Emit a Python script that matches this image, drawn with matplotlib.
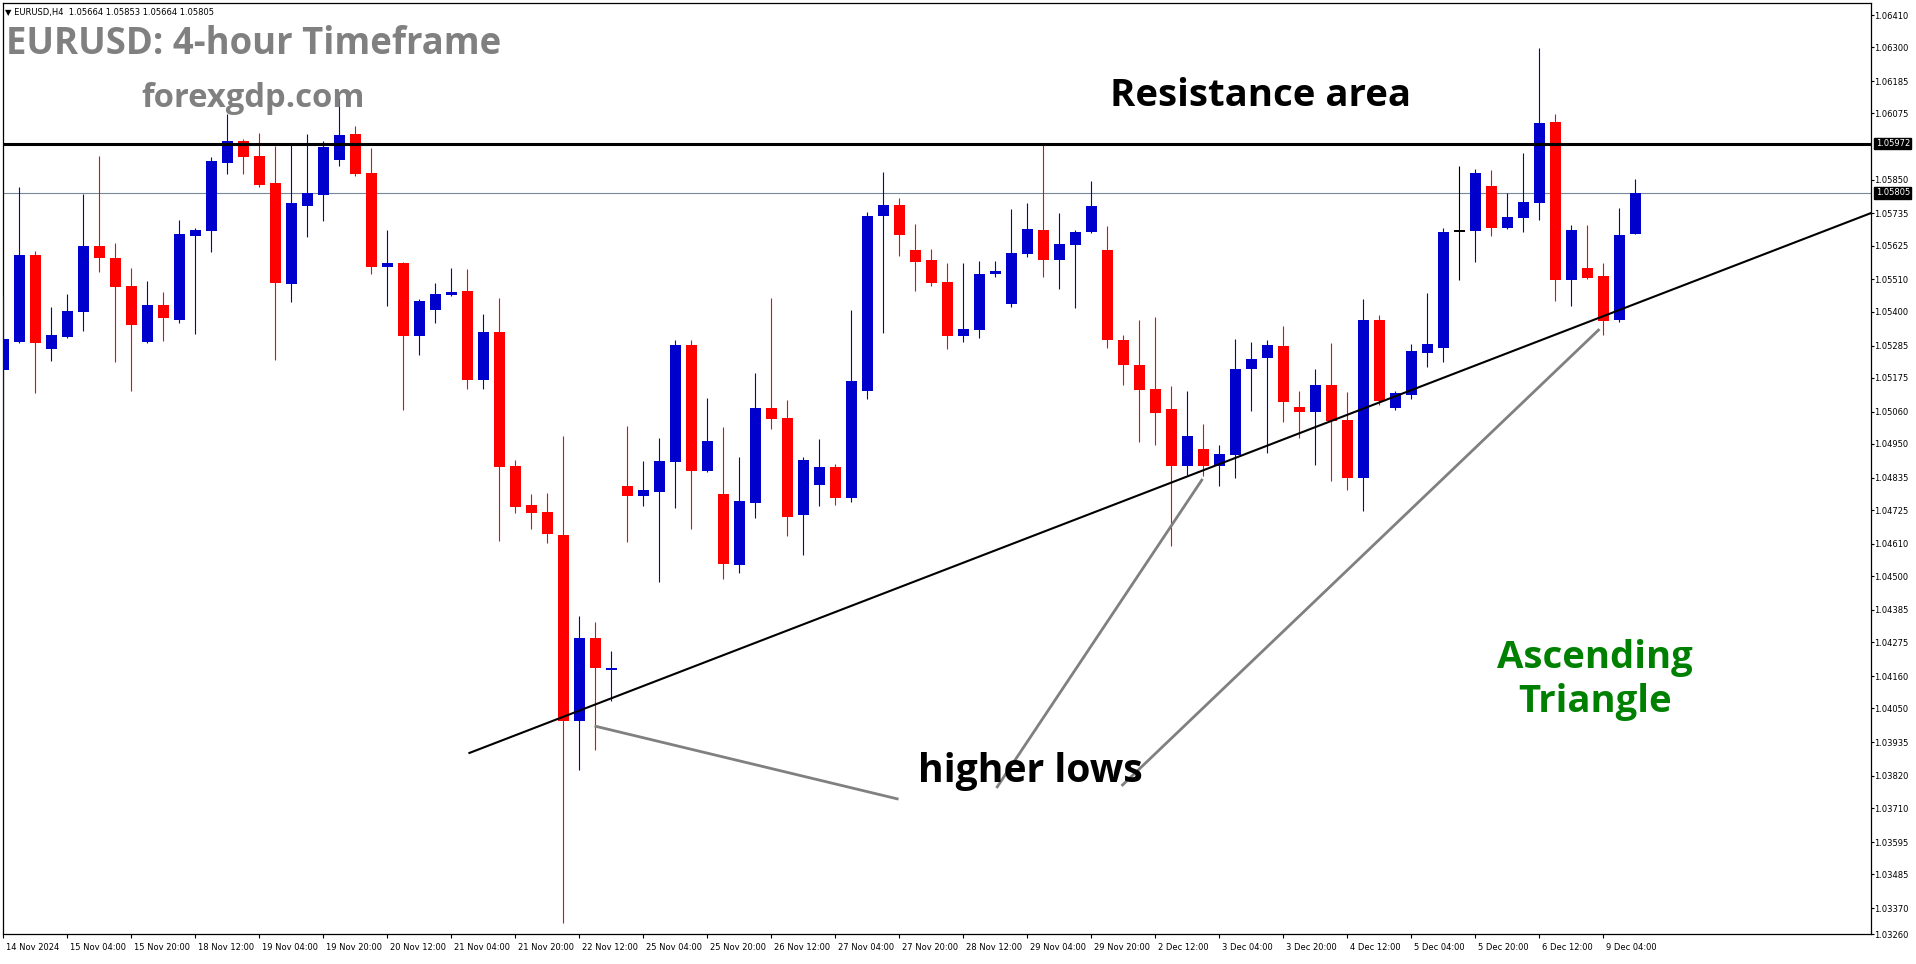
import matplotlib
matplotlib.use("Agg")
import matplotlib.pyplot as plt
import matplotlib.transforms as mtransforms
import numpy as np

# ---------------- data (EURUSD H4) ----------------
opens = [1.05202, 1.05297, 1.05593, 1.05273, 1.05314, 1.05399, 1.05624, 1.05583, 1.05488, 1.05297,
         1.05423, 1.05372, 1.05658, 1.05675, 1.05906, 1.05981, 1.05930, 1.05838, 1.05494, 1.05760,
         1.05797, 1.05916, 1.06005, 1.05872, 1.05552, 1.05566, 1.05317, 1.05406, 1.05457, 1.05470,
         1.05168, 1.05331, 1.04875, 1.04742, 1.04718, 1.04640, 1.04006, 1.04289, 1.04180, 1.04806,
         1.04773, 1.04786, 1.04888, 1.05287, 1.04858, 1.04780, 1.04538, 1.04749, 1.05072, 1.05038,
         1.04708, 1.04810, 1.04871, 1.04766, 1.05131, 1.05726, 1.05763, 1.05610, 1.05576, 1.05501,
         1.05317, 1.05338, 1.05528, 1.05426, 1.05596, 1.05678, 1.05576, 1.05627, 1.05671, 1.05610,
         1.05304, 1.05219, 1.05137, 1.05069, 1.04875, 1.04933, 1.04875, 1.04912, 1.05205, 1.05242,
         1.05283, 1.05076, 1.05058, 1.05150, 1.05031, 1.04834, 1.05372, 1.05072, 1.05116, 1.05259,
         1.05277, 1.05675, 1.05675, 1.05828, 1.05685, 1.05719, 1.05770, 1.06046, 1.05508, 1.05549,
         1.05521, 1.05372, 1.05664]
highs = [1.05453, 1.05824, 1.05607, 1.05416, 1.05460, 1.05801, 1.05930, 1.05634, 1.05549, 1.05505,
         1.05467, 1.05712, 1.05685, 1.05927, 1.06073, 1.05988, 1.06008, 1.05964, 1.05967, 1.06005,
         1.05981, 1.06127, 1.06032, 1.05957, 1.05678, 1.05569, 1.05443, 1.05498, 1.05549, 1.05545,
         1.05392, 1.05447, 1.04895, 1.04780, 1.04783, 1.04977, 1.04364, 1.04344, 1.04245, 1.05010,
         1.04892, 1.04970, 1.05304, 1.05304, 1.05106, 1.05008, 1.04905, 1.05191, 1.05447, 1.05099,
         1.04905, 1.04967, 1.04882, 1.05406, 1.05739, 1.05876, 1.05787, 1.05698, 1.05613, 1.05566,
         1.05566, 1.05573, 1.05573, 1.05750, 1.05770, 1.05967, 1.05736, 1.05678, 1.05845, 1.05692,
         1.05321, 1.05372, 1.05382, 1.05147, 1.05131, 1.05018, 1.04946, 1.05307, 1.05297, 1.05304,
         1.05351, 1.05130, 1.05205, 1.05293, 1.05127, 1.05443, 1.05389, 1.05131, 1.05290, 1.05464,
         1.05685, 1.05896, 1.05886, 1.05882, 1.05804, 1.05940, 1.06298, 1.06073, 1.05695, 1.05695,
         1.05566, 1.05753, 1.05853]
lows = [1.04963, 1.05293, 1.05123, 1.05232, 1.05310, 1.05334, 1.05535, 1.05229, 1.05131, 1.05293,
        1.05300, 1.05362, 1.05324, 1.05603, 1.05869, 1.05869, 1.05824, 1.05236, 1.05433, 1.05654,
        1.05709, 1.05896, 1.05862, 1.05528, 1.05419, 1.05065, 1.05253, 1.05362, 1.05453, 1.05137,
        1.05137, 1.04619, 1.04715, 1.04660, 1.04613, 1.03319, 1.03840, 1.03908, 1.04075, 1.04616,
        1.04739, 1.04480, 1.04732, 1.04660, 1.04854, 1.04490, 1.04511, 1.04698, 1.05001, 1.04637,
        1.04572, 1.04739, 1.04742, 1.04752, 1.05103, 1.05328, 1.05590, 1.05470, 1.05488, 1.05273,
        1.05297, 1.05310, 1.05518, 1.05416, 1.05586, 1.05518, 1.05477, 1.05413, 1.05668, 1.05277,
        1.05150, 1.04957, 1.04946, 1.04602, 1.04844, 1.04841, 1.04806, 1.04834, 1.05062, 1.04919,
        1.05025, 1.04970, 1.04878, 1.04824, 1.04794, 1.04722, 1.05082, 1.05065, 1.05103, 1.05212,
        1.05229, 1.05508, 1.05569, 1.05658, 1.05682, 1.05671, 1.05712, 1.05436, 1.05419, 1.05511,
        1.05321, 1.05365, 1.05664]
closes = [1.05307, 1.05593, 1.05293, 1.05321, 1.05402, 1.05624, 1.05583, 1.05484, 1.05355, 1.05423,
          1.05379, 1.05665, 1.05678, 1.05913, 1.05981, 1.05927, 1.05831, 1.05498, 1.05770, 1.05804,
          1.05961, 1.06002, 1.05869, 1.05552, 1.05566, 1.05317, 1.05436, 1.05460, 1.05467, 1.05168,
          1.05331, 1.04871, 1.04735, 1.04715, 1.04644, 1.04006, 1.04289, 1.04188, 1.04187, 1.04773,
          1.04794, 1.04892, 1.05287, 1.04858, 1.04960, 1.04541, 1.04756, 1.05072, 1.05035, 1.04701,
          1.04895, 1.04871, 1.04766, 1.05164, 1.05726, 1.05763, 1.05661, 1.05569, 1.05498, 1.05317,
          1.05341, 1.05528, 1.05539, 1.05600, 1.05682, 1.05576, 1.05630, 1.05671, 1.05760, 1.05304,
          1.05219, 1.05133, 1.05055, 1.04875, 1.04977, 1.04875, 1.04916, 1.05205, 1.05239, 1.05287,
          1.05092, 1.05058, 1.05150, 1.05028, 1.04834, 1.05372, 1.05096, 1.05123, 1.05266, 1.05290,
          1.05671, 1.05675, 1.05872, 1.05685, 1.05722, 1.05773, 1.06042, 1.05508, 1.05678, 1.05515,
          1.05368, 1.05661, 1.05805]

x_tick_labels = ["14 Nov 2024", "15 Nov 04:00", "15 Nov 20:00", "18 Nov 12:00", "19 Nov 04:00",
                 "19 Nov 20:00", "20 Nov 12:00", "21 Nov 04:00", "21 Nov 20:00", "22 Nov 12:00",
                 "25 Nov 04:00", "25 Nov 20:00", "26 Nov 12:00", "27 Nov 04:00", "27 Nov 20:00",
                 "28 Nov 12:00", "29 Nov 04:00", "29 Nov 20:00", "2 Dec 12:00", "3 Dec 04:00",
                 "3 Dec 20:00", "4 Dec 12:00", "5 Dec 04:00", "5 Dec 20:00", "6 Dec 12:00",
                 "9 Dec 04:00"]
y_tick_values = [1.06410, 1.06300, 1.06185, 1.06075, 1.05850, 1.05735, 1.05625, 1.05510,
                 1.05400, 1.05285, 1.05175, 1.05060, 1.04950, 1.04835, 1.04725, 1.04610, 1.04500,
                 1.04385, 1.04275, 1.04160, 1.04050, 1.03935, 1.03820, 1.03710, 1.03595, 1.03485,
                 1.03370, 1.03260]

resistance_level = 1.05972
last_price = 1.05805
trend_anchor_a = (29.06, 1.03897)
trend_anchor_b = (116.72, 1.05736)
higher_low_arrows = [((36.94, 1.03990), (55.94, 1.03741)),
                     ((74.94, 1.04831), (62.06, 1.03779)),
                     ((99.75, 1.05341), (69.88, 1.03786))]
header = "\u25BC EURUSD,H4  1.05664 1.05853 1.05664 1.05805"

# ---------------- figure ----------------
W, H = 1916, 964
fig = plt.figure(figsize=(W / 100, H / 100), dpi=100)
fig.patch.set_facecolor("white")
ax_left, ax_right, ax_top, ax_bottom = 2.5, 1871, 3, 934
ax = fig.add_axes([ax_left / W, 1 - ax_bottom / H, (ax_right - ax_left) / W, (ax_bottom - ax_top) / H])

BLUE = "#0000CD"
RED = "#FF0000"

o = np.array(opens); h = np.array(highs); l = np.array(lows); c = np.array(closes)
xs = np.arange(len(o))
cols = np.where(c > o, BLUE, np.where(c < o, RED, "black"))

xmin, xmax = -0.0625, 116.72
ymin, ymax = 1.03282, 1.06451
ax.set_xlim(xmin, xmax)
ax.set_ylim(ymin, ymax)

px_per_price = (ax_bottom - ax_top) / (ymax - ymin)
one_px = 1.0 / px_per_price

ax.vlines(xs, l, h, colors=cols, linewidth=0.8, zorder=3)
body_w = 0.69
bottoms = np.minimum(o, c)
heights = np.maximum(np.abs(c - o), one_px * 1.2)
ax.bar(xs, heights, bottom=bottoms - np.where(np.abs(c - o) < one_px, one_px * 0.6, 0),
       width=body_w, color=cols, linewidth=0, zorder=4)

# horizontal levels
ax.axhline(resistance_level, color="black", linewidth=2.2, zorder=5)
ax.axhline(last_price, color="#778899", linewidth=0.8, zorder=2)

# ascending trend line (ray to the right)
slope = (trend_anchor_b[1] - trend_anchor_a[1]) / (trend_anchor_b[0] - trend_anchor_a[0])
tx = np.array([trend_anchor_a[0], xmax + 1])
ty = trend_anchor_a[1] + slope * (tx - trend_anchor_a[0])
ax.plot(tx, ty, color="black", linewidth=1.5, zorder=6, solid_capstyle="butt")

for (p1, p2) in higher_low_arrows:
    ax.plot([p1[0], p2[0]], [p1[1], p2[1]], color="#808080", linewidth=2.0, zorder=6,
            solid_capstyle="butt")

# axes styling
for s in ax.spines.values():
    s.set_color("black")
    s.set_linewidth(0.9)
ax.yaxis.tick_right()
yt = np.clip(np.array(y_tick_values), ymin, ymax)
ax.set_yticks(yt)
ax.set_yticklabels([f"{v:.5f}" for v in y_tick_values])
ax.tick_params(axis="y", direction="out", length=2.5, width=0.8, pad=-0.5, labelsize=6, colors="black")
ax.set_xticks(xs[::4][:len(x_tick_labels)])
ax.set_xticklabels(x_tick_labels)
ax.tick_params(axis="x", direction="out", length=3, width=0.8, pad=3.5, labelsize=6, colors="black")
offset = mtransforms.ScaledTranslation(1.5 / 72, 0, fig.dpi_scale_trans)
for lbl in ax.get_xticklabels():
    lbl.set_horizontalalignment("left")
    lbl.set_transform(lbl.get_transform() + offset)

# price boxes on the axis
ytrans = ax.get_yaxis_transform()
for val in (resistance_level, last_price):
    ax.text(1.0025, val, f"{val:.5f}", transform=ytrans, ha="left", va="center",
            fontsize=6, color="white", zorder=10, clip_on=False,
            bbox=dict(boxstyle="square,pad=0.15", facecolor="black", edgecolor="black"))

def fx(px):
    return px / W

def fy(py):
    return 1 - py / H

fig.text(fx(5), fy(12), header, fontsize=6, color="black", ha="left", va="center",
         family=["DejaVu Sans"])
BOLD = dict(family=["Open Sans", "DejaVu Sans"], fontweight="bold")
fig.text(fx(6), fy(54), "EURUSD: 4-hour Timeframe", fontsize=26.3, color="#808080",
         ha="left", va="baseline", **BOLD)
fig.text(fx(141), fy(107), "forexgdp.com", fontsize=23.6, color="#808080",
         ha="left", va="baseline", **BOLD)
fig.text(fx(1110), fy(106), "Resistance area", fontsize=27.6, color="black",
         ha="left", va="baseline", **BOLD)
fig.text(fx(918), fy(782), "higher lows", fontsize=28.2, color="black",
         ha="left", va="baseline", **BOLD)
fig.text(fx(1595), fy(668), "Ascending", fontsize=27.5, color="#008000",
         ha="center", va="baseline", **BOLD)
fig.text(fx(1595), fy(712), "Triangle", fontsize=27.5, color="#008000",
         ha="center", va="baseline", **BOLD)

fig.savefig("out.png", dpi=100, facecolor="white")
